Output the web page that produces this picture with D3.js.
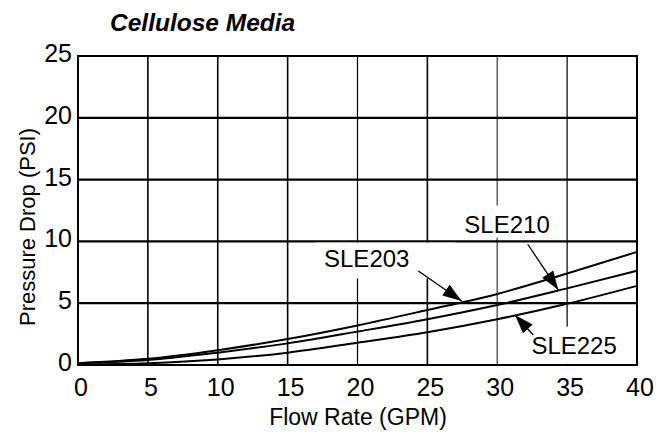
<!DOCTYPE html>
<html>
<head>
<meta charset="utf-8">
<script src="https://cdn.jsdelivr.net/npm/d3@7"></script>
<style>
  body { margin: 0; background: #fff; }
  svg { font-family: "Liberation Sans", Arial, Helvetica, sans-serif; }
</style>
</head>
<body>
<svg id="chart" width="662" height="435"></svg>
<script>

const flow = [0, 5, 10, 15, 20, 25, 30, 35, 40];
const sle203 = [0.15, 0.5, 1.2, 2.1, 3.2, 4.45, 5.75, 7.4, 9.15];
const sle210 = [0.15, 0.4, 1.0, 1.75, 2.7, 3.7, 4.85, 6.2, 7.62];
const sle225 = [0.05, 0.15, 0.45, 1.0, 1.8, 2.65, 3.7, 4.95, 6.4];

const xTicks = [0, 5, 10, 15, 20, 25, 30, 35, 40];
const yTicks = [0, 5, 10, 15, 20, 25];

// label text, label anchor, arrow tail, arrow tip (data units)
const notes = [
    {text: 'SLE203', at: [20.66, 7.93], from: [24.35, 7.6], to: [27.45, 5.18], box: [17.0, 27.0, 7.0, 9.9]},
    {text: 'SLE210', at: [30.7, 10.64], from: [32.18, 9.77], to: [34.37, 6.07], box: [27.0, 34.4, 10.3, 12.9]},
    {text: 'SLE225', at: [35.5, 0.93], from: [32.58, 2.43], to: [31.27, 4.05], box: [32.1, 39.2, 0.1, 3.1]}
];

let svg = d3.select('#chart');

let x = d3.scaleLinear().domain([0, 40]).range([78, 637]);
let y = d3.scaleLinear().domain([0, 25]).range([365, 56]);

// grid
svg.append('g').selectAll('line').data(xTicks.slice(1, -1)).enter().append('line')
    .attr('x1', d => x(d)).attr('x2', d => x(d))
    .attr('y1', y(0)).attr('y2', y(25))
    .attr('stroke', d => d == 30 ? '#666' : '#000')
    .attr('stroke-width', d => d == 20 || d == 35 ? 1.2 : 1.6);

svg.append('g').selectAll('line').data(yTicks.slice(1, -1)).enter().append('line')
    .attr('x1', x(0)).attr('x2', x(40))
    .attr('y1', d => y(d)).attr('y2', d => y(d))
    .attr('stroke', '#000').attr('stroke-width', 2.2);

// white patches behind the labels
svg.append('g').selectAll('rect').data(notes).enter().append('rect')
    .attr('x', d => x(d.box[0]))
    .attr('y', d => y(d.box[3]))
    .attr('width', d => x(d.box[1]) - x(d.box[0]))
    .attr('height', d => y(d.box[2]) - y(d.box[3]))
    .attr('fill', '#fff');

// curves
let line = d3.line()
    .x((d, i) => x(flow[i]))
    .y(d => y(d))
    .curve(d3.curveMonotoneX);

svg.append('g').selectAll('path').data([sle203, sle210, sle225]).enter().append('path')
    .attr('d', line)
    .attr('fill', 'none')
    .attr('stroke', '#000')
    .attr('stroke-width', 2);

// arrows
function arrowHead(d) {
    let x1 = x(d.from[0]), y1 = y(d.from[1]), x2 = x(d.to[0]), y2 = y(d.to[1]);
    let a = Math.atan2(y2 - y1, x2 - x1);
    let len = 19, half = 6.5;
    let bx = x2 - len * Math.cos(a), by = y2 - len * Math.sin(a);
    let px = -Math.sin(a) * half, py = Math.cos(a) * half;
    return `M${x2},${y2}L${bx + px},${by + py}L${bx - px},${by - py}Z`;
}

let arrows = svg.append('g').selectAll('g').data(notes).enter().append('g');
arrows.append('line')
    .attr('x1', d => x(d.from[0])).attr('y1', d => y(d.from[1]))
    .attr('x2', d => x(d.to[0])).attr('y2', d => y(d.to[1]))
    .attr('stroke', '#000').attr('stroke-width', 1.3);
arrows.append('path').attr('d', arrowHead).attr('fill', '#000');

svg.append('g').selectAll('text').data(notes).enter().append('text')
    .attr('x', d => x(d.at[0]))
    .attr('y', d => y(d.at[1]))
    .attr('text-anchor', 'middle')
    .attr('font-size', 24)
    .text(d => d.text);

// frame
svg.append('rect')
    .attr('x', x(0)).attr('y', y(25))
    .attr('width', x(40) - x(0)).attr('height', y(0) - y(25))
    .attr('fill', 'none').attr('stroke', '#000').attr('stroke-width', 2);

// tick labels
svg.append('g').selectAll('text').data(xTicks).enter().append('text')
    .attr('x', d => x(d) + 3)
    .attr('y', 396)
    .attr('text-anchor', 'middle')
    .attr('font-size', 25)
    .text(d => d);

svg.append('g').selectAll('text').data(yTicks).enter().append('text')
    .attr('x', 72)
    .attr('y', d => y(d) + 6)
    .attr('text-anchor', 'end')
    .attr('font-size', 25)
    .text(d => d);

// titles
svg.append('text')
    .attr('x', 110).attr('y', 31)
    .attr('font-size', 24.5)
    .attr('font-weight', 'bold')
    .attr('font-style', 'italic')
    .text('Cellulose Media');

svg.append('text')
    .attr('x', 358).attr('y', 425)
    .attr('text-anchor', 'middle')
    .attr('font-size', 23)
    .text('Flow Rate (GPM)');

svg.append('text')
    .attr('transform', 'translate(35,227) rotate(-90)')
    .attr('text-anchor', 'middle')
    .attr('font-size', 22)
    .text('Pressure Drop (PSI)');

</script>
</body>
</html>
